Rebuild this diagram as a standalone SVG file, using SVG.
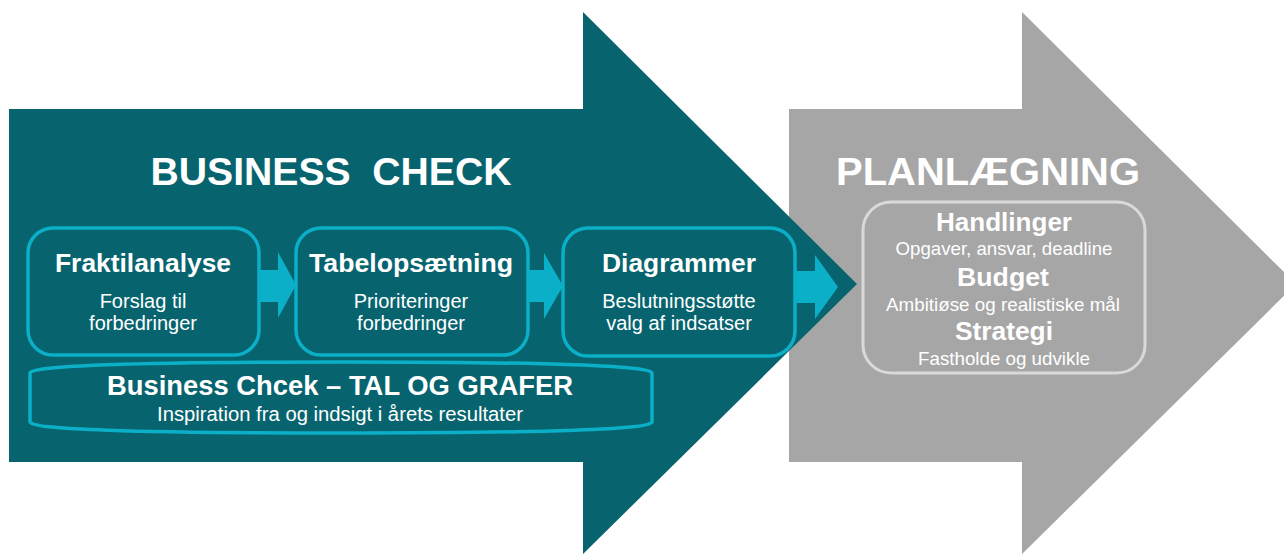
<svg xmlns="http://www.w3.org/2000/svg" width="1284" height="554" viewBox="0 0 1284 554">
<style>
.t{font-family:"Liberation Sans",Arial,sans-serif;fill:#fff;text-anchor:middle}
.b{font-weight:bold}
.box{fill:#07646F;stroke:#0BAFC8;stroke-width:3.5}
.con{fill:#0BAFC8}
</style>
<rect width="1284" height="554" fill="#fff"/>
<g id="planlaegning">
<polygon points="789,109 1022,109 1022,12 1296,284 1022,554 1022,462 789,462" fill="#A6A6A6"/>
<text class="t b" x="988" y="185" font-size="38" textLength="304" lengthAdjust="spacingAndGlyphs">PLANLÆGNING</text>
</g>
<g id="business-check">
<polygon points="9,109 583,109 583,12 857,284 583,554 583,462 9,462" fill="#07646F"/>
<text class="t b" x="331" y="185" font-size="38" textLength="361" lengthAdjust="spacingAndGlyphs" xml:space="preserve">BUSINESS  CHECK</text>
</g>
<g id="connectors">
<polygon class="con" points="259,270 278,270 278,252 296,285 278,318 278,302 259,302"/>
<polygon class="con" points="528,270 544,270 544,253 563,286 544,319 544,302 528,302"/>
<polygon class="con" points="795,271 815,271 815,255 838,287 815,319 815,303 795,303"/>
</g>
<g id="fraktilanalyse">
<rect class="box" x="28" y="228" width="231" height="127" rx="25"/>
<text class="t b" x="143" y="272" font-size="25" textLength="176" lengthAdjust="spacingAndGlyphs">Fraktilanalyse</text>
<text class="t" x="143" y="308" font-size="20">Forslag til</text>
<text class="t" x="143" y="330" font-size="20">forbedringer</text>
</g>
<g id="tabelopsaetning">
<rect class="box" x="296" y="228" width="232" height="127" rx="25"/>
<text class="t b" x="411" y="272" font-size="25" textLength="204" lengthAdjust="spacingAndGlyphs">Tabelopsætning</text>
<text class="t" x="411" y="308" font-size="20">Prioriteringer</text>
<text class="t" x="411" y="330" font-size="20">forbedringer</text>
</g>
<g id="diagrammer">
<rect class="box" x="563" y="228" width="232" height="128" rx="25"/>
<text class="t b" x="679" y="272" font-size="25" textLength="154" lengthAdjust="spacingAndGlyphs">Diagrammer</text>
<text class="t" x="679" y="308" font-size="20">Beslutningsstøtte</text>
<text class="t" x="679" y="330" font-size="20">valg af indsatser</text>
</g>
<g id="tal-og-grafer">
<path class="box" d="M30,373 Q30,362 341,362 Q652,362 652,373 L652,422 Q652,433 341,433 Q30,433 30,422 Z"/>
<text class="t b" x="340" y="395" font-size="27" textLength="466" lengthAdjust="spacingAndGlyphs">Business Chcek – TAL OG GRAFER</text>
<text class="t" x="340" y="421" font-size="20" textLength="366" lengthAdjust="spacingAndGlyphs">Inspiration fra og indsigt i årets resultater</text>
</g>
<g id="handlinger">
<rect x="863" y="202" width="282" height="171" rx="28" fill="#A6A6A6" stroke="#D9D9D9" stroke-width="3"/>
<text class="t b" x="1004" y="231" font-size="26" textLength="136" lengthAdjust="spacingAndGlyphs">Handlinger</text>
<text class="t" x="1004" y="255" font-size="18.5" textLength="217" lengthAdjust="spacingAndGlyphs">Opgaver, ansvar, deadline</text>
<text class="t b" x="1003" y="286" font-size="26" textLength="92" lengthAdjust="spacingAndGlyphs">Budget</text>
<text class="t" x="1003" y="311" font-size="18.5" textLength="234" lengthAdjust="spacingAndGlyphs">Ambitiøse og realistiske mål</text>
<text class="t b" x="1004" y="340" font-size="26" textLength="98" lengthAdjust="spacingAndGlyphs">Strategi</text>
<text class="t" x="1004" y="365" font-size="18.5" textLength="172" lengthAdjust="spacingAndGlyphs">Fastholde og udvikle</text>
</g>
</svg>
